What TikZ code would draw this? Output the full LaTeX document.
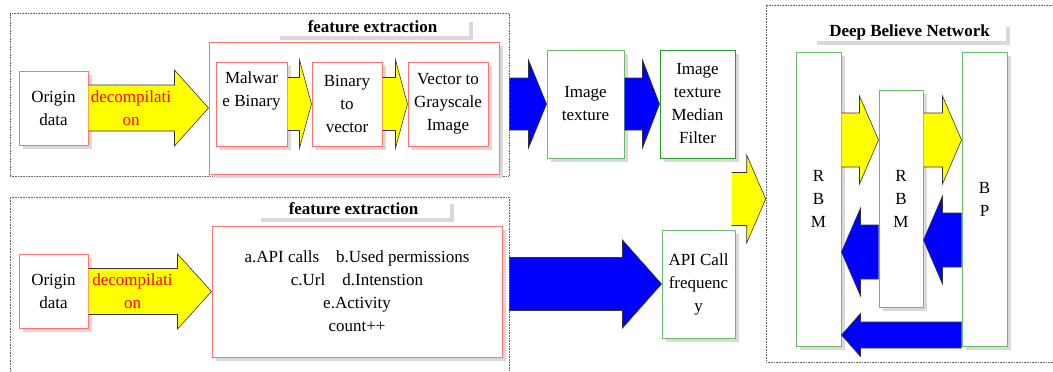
\documentclass[tikz,border=0pt]{standalone}
\usepackage{fontspec}
\setmainfont{Liberation Serif}
\usepackage{xcolor}
\usepackage{tikz}
\usetikzlibrary{calc,shadows}

\definecolor{redline}{RGB}{255,115,115}
\definecolor{greenline}{RGB}{110,185,110}
\definecolor{greendark}{RGB}{40,160,40}
\definecolor{arrowblue}{RGB}{0,0,255}
\definecolor{arrowyellow}{RGB}{255,255,0}

\tikzset{
  boxshadow/.style={drop shadow={shadow xshift=4pt, shadow yshift=-4pt, fill=black!15, opacity=1}},
  redbox/.style={draw=redline, line width=1pt, fill=white, boxshadow, align=center, inner sep=1pt},
  greenbox/.style={draw=greenline, line width=1pt, fill=white, boxshadow, align=center, inner sep=1pt},
  framebox/.style={draw=black!60, densely dotted, line width=0.6pt, inner sep=0pt},
  titlebox/.style={fill=white, boxshadow, font=\fontsize{17}{23}\selectfont\bfseries, inner sep=0pt, minimum width=193pt, minimum height=18pt},
  arrowline/.style={draw=black!80, line width=0.6pt, line join=miter},
}

% #1 colour, #2 start, #3 tip, #4 shaft half, #5 head half, #6 head length
\newcommand{\fatarrow}[6]{%
  \fill[#1] let \p1=#2, \p2=#3 in
    (\x1,{\y2+#4}) -- ({\x2-(#6)},{\y2+#4}) -- ({\x2-(#6)},{\y2+#5}) -- (\x2,\y2)
    -- ({\x2-(#6)},{\y2-#5}) -- ({\x2-(#6)},{\y2-#4}) -- (\x1,{\y2-#4}) -- cycle;
  \draw[arrowline] let \p1=#2, \p2=#3 in
    (\x1,{\y2+#4}) -- ({\x2-(#6)},{\y2+#4}) -- ({\x2-(#6)},{\y2+#5}) -- (\x2,\y2)
    -- ({\x2-(#6)},{\y2-#5}) -- ({\x2-(#6)},{\y2-#4}) -- (\x1,{\y2-#4});
}

\begin{document}
\begin{tikzpicture}[x=1pt, y=-1pt, font=\fontsize{17}{23}\selectfont]
\fill[white] (0,0) rectangle (1053,372);
\useasboundingbox (0,0) rectangle (1053,372);

% frames
\node[framebox, minimum width=499pt, minimum height=163pt] (topframe) at (259.5,94.5) {};
\node[framebox, minimum width=499pt, minimum height=193pt] (botframe) at (259.5,293.5) {};
\node[framebox, minimum width=304pt, minimum height=357pt] (dbnframe) at (918,183.5) {};

% upper branch
\node[redbox, minimum width=69pt, minimum height=74pt] (orig1) at (53.5,108) {Origin\\data};
\node[redbox, minimum width=290pt, minimum height=132pt] (fe1) at (354,108) {};
\node[titlebox] (lab1) at (372.5,27) {feature extraction};
\node[redbox, minimum width=71pt, minimum height=84pt] (mal) at (251.5,104) {Malwar\\e Binary\\\strut};
\node[redbox, minimum width=70pt, minimum height=84pt] (bin) at (347,104) {Binary\\to\\vector};
\node[redbox, minimum width=80pt, minimum height=84pt] (vec) at (448,104) {Vector to\\Grayscale\\Image};
\node[greenbox, minimum width=77pt, minimum height=108pt] (tex) at (585.5,104) {Image\\texture};
\node[greenbox, draw=greendark, minimum width=75pt, minimum height=108pt] (med) at (697.5,104) {Image\\texture\\Median\\Filter};

% lower branch
\node[redbox, minimum width=69pt, minimum height=74pt] (orig2) at (53.5,291) {Origin\\data};
\node[redbox, minimum width=290pt, minimum height=131pt] (fe2) at (357,291.5)
  {a.API calls\quad b.Used permissions\\c.Url\quad d.Intenstion\\e.Activity\\count++};
\node[titlebox] (lab2) at (353.5,209) {feature extraction};
\node[greenbox, minimum width=73pt, minimum height=108pt] (api) at (698.5,284) {API Call\\frequenc\\y};

% deep believe network
\node[titlebox] (dbnlab) at (909.5,32) {Deep Believe Network};
\node[greenbox, minimum width=45pt, minimum height=294pt] (rbm1) at (818.5,199) {R\\B\\M};
\node[greenbox, minimum width=44pt, minimum height=217pt] (rbm2) at (901,198.5) {R\\B\\M};
\node[greenbox, minimum width=45pt, minimum height=294pt] (bp) at (984.5,199) {B\\P};

% block arrows
\fatarrow{arrowyellow}{(orig1.east)}{(fe1.west)}{23pt}{38pt}{34pt}
\node[text=red, align=center] (dec1) at (131,108) {decompilati\\on};
\fatarrow{arrowyellow}{(mal.east)}{(bin.west)}{26.5pt}{44pt}{12pt}
\fatarrow{arrowyellow}{(bin.east)}{(vec.west)}{26.5pt}{44pt}{12pt}
\fatarrow{arrowblue}{(topframe.east)}{(tex.west)}{26pt}{44pt}{18pt}
\fatarrow{arrowblue}{(tex.east)}{(med.west)}{26pt}{44pt}{17pt}
\fatarrow{arrowyellow}{([xshift=-4pt]med.east)}{(dbnframe.west |- rbm1.west)}{26.5pt}{44pt}{19pt}

\fatarrow{arrowyellow}{(orig2.east)}{(fe2.west)}{23pt}{37.5pt}{34pt}
\node[text=red, align=center] (dec2) at (132.5,291) {decompilati\\on};
\fatarrow{arrowblue}{(botframe.east)}{(api.west)}{26.5pt}{44pt}{39pt}

\fatarrow{arrowyellow}{(rbm1.east)}{([yshift=58.5pt]rbm2.west)}{27pt}{44pt}{19pt}
\fatarrow{arrowyellow}{(rbm2.east)}{([yshift=59pt]bp.west)}{27pt}{44pt}{19pt}
\fatarrow{arrowblue}{(bp.west)}{([yshift=-41.5pt]rbm2.east)}{27pt}{44pt}{-19pt}
\fatarrow{arrowblue}{(rbm2.west)}{([yshift=-53pt]rbm1.east)}{27pt}{44pt}{-19pt}
\fatarrow{arrowblue}{(bp.west)}{([yshift=-136pt]rbm1.east)}{13pt}{21.5pt}{-19pt}
\end{tikzpicture}
\end{document}
